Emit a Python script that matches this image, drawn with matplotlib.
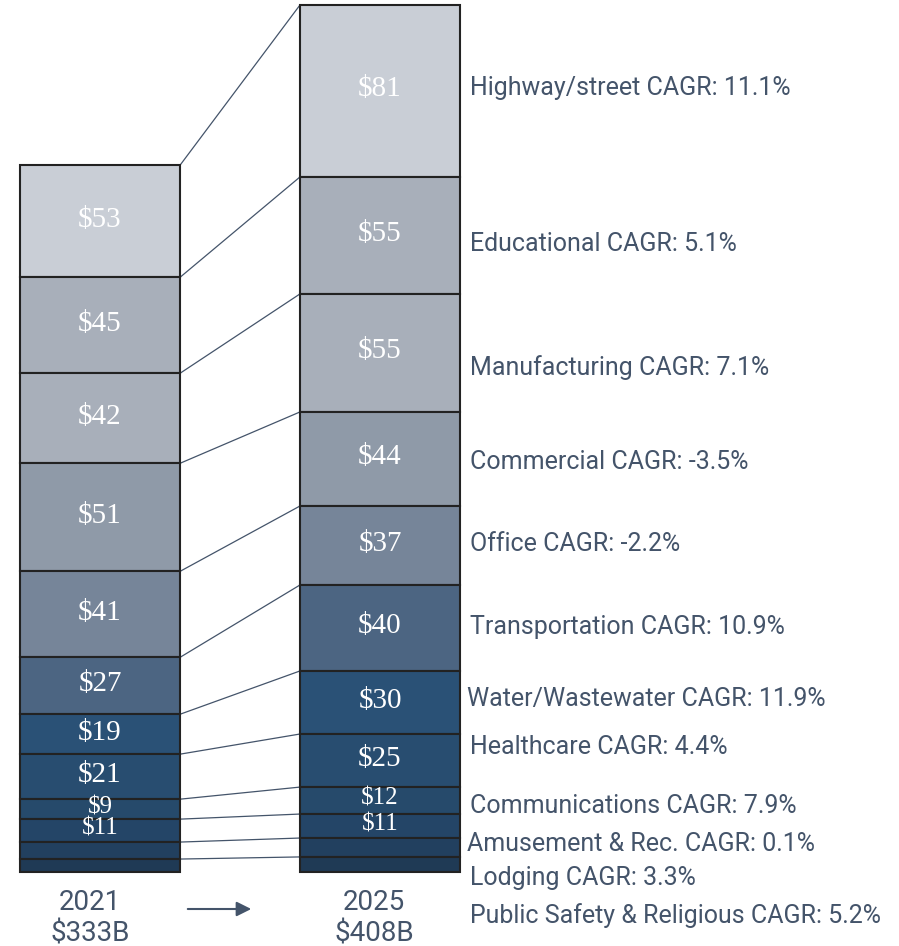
import matplotlib.pyplot as plt
from matplotlib.patches import FancyArrowPatch

# data ($B), top segment first
sectors = ['Highway/street', 'Educational', 'Manufacturing', 'Commercial', 'Office',
           'Transportation', 'Water/Wastewater', 'Healthcare', 'Communications',
           'Amusement & Rec.', 'Lodging', 'Public Safety & Religious']
cagr = ['11.1%', '5.1%', '7.1%', '-3.5%', '-2.2%', '10.9%', '11.9%', '4.4%',
        '7.9%', '0.1%', '3.3%', '5.2%']
vals_2021 = [52.8, 45.2, 42.4, 50.9, 40.5, 26.8, 18.8, 21.2, 9.4, 10.8, 8.0, 6.1]
vals_2025 = [81.0, 55.1, 55.6, 44.3, 37.2, 40.5, 29.7, 25.0, 12.7, 11.3, 8.9, 7.1]
labels_2021 = ['$53', '$45', '$42', '$51', '$41', '$27', '$19', '$21', '$9', '$11', '', '']
labels_2025 = ['$81', '$55', '$55', '$44', '$37', '$40', '$30', '$25', '$12', '$11', '', '']
years = ['2021', '2025']
totals = ['$333B', '$408B']

colors = ['#C9CED6', '#A8AFBA', '#A8AFBA', '#8F9AA8', '#768599', '#4C6582',
          '#2A5176', '#284D70', '#264A6B', '#244567', '#22405F', '#1F3A55']
slate = '#44546A'

W, H = 899, 946
px = 2.123          # pixels per $B
base = 872          # pixel row of the bar bottoms

fig = plt.figure(figsize=(W / 100, H / 100), dpi=100)
ax = fig.add_axes([0, 0, 1, 1])
ax.set_xlim(0, W)
ax.set_ylim(-(H - base) / px, base / px)
ax.axis('off')


def py(pix):
    # pixel row -> data y
    return (base - pix) / px


xs = [100, 380]
bw = 160
tops = []
for xc, vals, labs in [(xs[0], vals_2021, labels_2021), (xs[1], vals_2025, labels_2025)]:
    bottoms = []
    b = 0
    for v in reversed(vals):
        bottoms.append(b)
        b += v
    bottoms = bottoms[::-1]
    ax.bar([xc] * len(vals), vals, bottom=bottoms, width=bw, color=colors,
           edgecolor='#222222', linewidth=1.5, zorder=2)
    for v, b0, lab in zip(vals, bottoms, labs):
        if lab:
            # thin segments get a slightly smaller label so they don't collide
            fs = 21 if v > 15 else 18
            ax.text(xc, b0 + v / 2 + 0.8, lab, ha='center', va='center', color='white',
                    fontsize=fs, family='Liberation Serif', zorder=3)
    tops.append([b0 + v for v, b0 in zip(vals, bottoms)])

# connector lines between matching segment tops
for t1, t2 in zip(tops[0], tops[1]):
    ax.plot([xs[0] + bw / 2, xs[1] - bw / 2], [t1, t2], color=slate, lw=0.9, zorder=1)

# sector labels on the right
label_rows = [88, 244, 368, 462, 544, 627, 699, 747, 806, 844, 878, 916]
label_x = [470, 470, 470, 470, 470, 470, 467, 470, 470, 467, 470, 470]
for name, c, r, lx in zip(sectors, cagr, label_rows, label_x):
    ax.text(lx, py(r), f'{name} CAGR: {c}', ha='left', va='center',
            color=slate, fontsize=18, family='Roboto')

# year / total labels
for xc, yr, tot in zip([90, 374], years, totals):
    ax.text(xc, py(902), yr, ha='center', va='center', color=slate, fontsize=20,
            family='Roboto')
    ax.text(xc, py(934), tot, ha='center', va='center', color=slate, fontsize=20,
            family='Roboto')

ax.add_patch(FancyArrowPatch((185, py(909)), (254, py(909)), arrowstyle='-|>',
                             mutation_scale=22, color=slate, lw=1.5))

fig.savefig('out.png', dpi=100)
